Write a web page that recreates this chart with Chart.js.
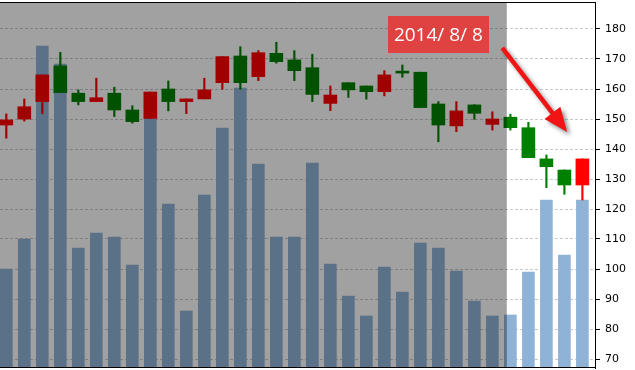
<!DOCTYPE html>
<html>
<head>
<meta charset="utf-8">
<script src="https://cdn.jsdelivr.net/npm/chart.js@4.4.0/dist/chart.umd.min.js"></script>
<style>
  html, body { margin: 0; padding: 0; background: #fff; }
  #chart { display: block; }
</style>
</head>
<body>
<canvas id="chart" width="635" height="370"></canvas>
<script>
// one candle per trading day, left to right
const days = [0, 1, 2, 3, 4, 5, 6, 7, 8, 9, 10, 11, 12, 13, 14, 15, 16, 17, 18, 19, 20, 21, 22, 23, 24, 25, 26, 27, 28, 29, 30, 31, 32];
const opens  = [148.0, 150.0, 155.8, 167.7, 158.6, 155.8, 158.6, 153.0, 150.2, 160.0, 155.8, 156.7, 162.1, 171.0, 164.1, 171.9, 169.7, 167.1, 155.2, 162.1, 161.0, 159.1, 165.5, 165.6, 155.0, 147.7, 154.7, 148.2, 150.6, 147.1, 136.7, 133.0, 128.0];
const closes = [149.7, 154.1, 164.7, 158.8, 155.8, 157.1, 153.0, 149.1, 159.0, 155.8, 156.7, 159.7, 170.8, 162.1, 172.1, 169.1, 166.1, 158.2, 158.0, 159.7, 159.1, 164.7, 165.3, 153.8, 148.0, 152.7, 151.9, 150.0, 147.1, 137.1, 134.1, 128.0, 136.7];
const highs  = [151.7, 156.7, 164.7, 172.2, 159.7, 163.6, 160.6, 154.4, 159.0, 162.7, 156.7, 163.6, 170.8, 174.1, 172.8, 175.6, 172.8, 171.6, 161.0, 162.1, 161.0, 166.1, 168.0, 165.6, 155.8, 155.8, 154.8, 152.4, 151.6, 148.9, 138.0, 133.0, 136.7];
const lows   = [143.6, 149.3, 151.8, 158.8, 154.7, 155.8, 150.8, 148.6, 150.2, 152.7, 151.8, 156.7, 159.9, 159.9, 162.8, 168.6, 162.8, 155.8, 152.8, 157.2, 156.6, 157.7, 163.9, 153.8, 142.4, 145.8, 149.9, 146.3, 146.3, 137.1, 127.1, 124.9, 123.0];
const volumes = [990, 1290, 3220, 3040, 1200, 1350, 1310, 1030, 2500, 1640, 570, 1730, 2400, 2800, 2040, 1310, 1310, 2050, 1040, 720, 520, 1010, 760, 1250, 1200, 970, 670, 520, 530, 960, 1680, 1130, 1680];

// grey shading covers the history up to here (x units)
const shadeEnd = 27.8;
// callout
const noteText = '2014/ 8/ 8';
const notePos = { x: 24.0, y: 178 };
const arrowFrom = { x: 27.55, y: 173.7 };
const arrowTo = { x: 31.15, y: 145.7 };

const UP = '#ff0000';
const DOWN = '#008000';
const candleColors = days.map((d, i) => closes[i] >= opens[i] ? UP : DOWN);

// shading + callout, drawn over the candles
const overlayPlugin = {
    id: 'overlay',
    afterDatasetsDraw(chart) {
        const { ctx, chartArea, scales } = chart;
        const x = scales.x, y = scales.y;

        ctx.save();
        ctx.fillStyle = 'rgba(0,0,0,0.37)';
        const xe = x.getPixelForValue(shadeEnd);
        ctx.fillRect(chartArea.left, chartArea.top, xe - chartArea.left, chartArea.bottom - chartArea.top);
        ctx.restore();

        // arrow with a soft shadow
        const x1 = x.getPixelForValue(arrowFrom.x), y1 = y.getPixelForValue(arrowFrom.y);
        const x2 = x.getPixelForValue(arrowTo.x), y2 = y.getPixelForValue(arrowTo.y);
        const ang = Math.atan2(y2 - y1, x2 - x1);
        const headLen = 24, headW = 10;
        const bx = x2 - headLen * Math.cos(ang), by = y2 - headLen * Math.sin(ang);
        ctx.save();
        ctx.shadowColor = 'rgba(0,0,0,0.45)';
        ctx.shadowOffsetX = 3;
        ctx.shadowOffsetY = 3;
        ctx.shadowBlur = 4;
        ctx.strokeStyle = '#f01414';
        ctx.fillStyle = '#f01414';
        ctx.lineWidth = 4.5;
        ctx.beginPath();
        ctx.moveTo(x1, y1);
        ctx.lineTo(bx + 4 * Math.cos(ang), by + 4 * Math.sin(ang));
        ctx.stroke();
        ctx.beginPath();
        ctx.moveTo(x2, y2);
        ctx.lineTo(bx + headW * Math.sin(ang), by - headW * Math.cos(ang));
        ctx.lineTo(bx - headW * Math.sin(ang), by + headW * Math.cos(ang));
        ctx.closePath();
        ctx.fill();
        ctx.restore();

        // label box
        ctx.save();
        ctx.font = '19px "Open Sans"';
        const tw = ctx.measureText(noteText).width;
        const cx = x.getPixelForValue(notePos.x), cy = y.getPixelForValue(notePos.y);
        const bw = tw + 12, bh = 37;
        ctx.fillStyle = '#e04242';
        ctx.fillRect(Math.round(cx - bw / 2), Math.round(cy - bh / 2), Math.round(bw), bh);
        ctx.fillStyle = '#fff';
        ctx.textAlign = 'center';
        ctx.textBaseline = 'middle';
        ctx.fillText(noteText, cx, cy + 1);
        ctx.restore();
    },
    afterDraw(chart) {
        // top and bottom frame lines
        const { ctx, chartArea } = chart;
        ctx.save();
        ctx.strokeStyle = '#000';
        ctx.lineWidth = 1;
        ctx.beginPath();
        ctx.moveTo(chartArea.left, chartArea.top + 0.5);
        ctx.lineTo(chartArea.right, chartArea.top + 0.5);
        ctx.moveTo(chartArea.left, chartArea.bottom - 0.5);
        ctx.lineTo(chartArea.right, chartArea.bottom - 0.5);
        ctx.stroke();
        ctx.restore();
    }
};

Chart.defaults.font.family = '"DejaVu Sans"';
Chart.defaults.font.size = 11;
Chart.defaults.color = '#000';

new Chart(document.getElementById('chart'), {
    type: 'bar',
    data: {
        datasets: [
            {
                label: 'Volume',
                data: days.map((d, i) => ({ x: d, y: volumes[i] })),
                yAxisID: 'vol',
                backgroundColor: '#8fb3d6',
                barThickness: 12,
                grouped: false,
                order: 3
            },
            {
                label: 'Wick',
                data: days.map((d, i) => ({ x: d, y: [lows[i], highs[i]] })),
                yAxisID: 'y',
                backgroundColor: candleColors,
                barThickness: 1.5,
                grouped: false,
                order: 2
            },
            {
                label: 'Body',
                data: days.map((d, i) => ({ x: d, y: [opens[i], closes[i]] })),
                yAxisID: 'y',
                backgroundColor: candleColors,
                barThickness: 13,
                minBarLength: 2,
                grouped: false,
                order: 1
            }
        ]
    },
    options: {
        responsive: false,
        animation: false,
        devicePixelRatio: 1,
        layout: { padding: { top: 2, bottom: 2, left: 0, right: 0 } },
        plugins: { legend: { display: false }, tooltip: { enabled: false } },
        scales: {
            x: {
                type: 'linear',
                display: false,
                min: -0.35,
                max: 32.7,
                offset: false
            },
            y: {
                position: 'right',
                min: 67,
                max: 189,
                afterFit: (scale) => {
                    scale.width = 40;
                    scale.paddingTop = 0;
                    scale.paddingBottom = 0;
                },
                ticks: { stepSize: 10, includeBounds: false, padding: 5, color: '#000' },
                grid: { color: '#c8c8c8', tickColor: '#000', tickLength: 5 },
                border: { display: true, color: '#000', width: 1, dash: [3, 2] }
            },
            vol: {
                display: false,
                min: 0,
                max: 3660
            }
        }
    },
    plugins: [overlayPlugin]
});
</script>
</body>
</html>
